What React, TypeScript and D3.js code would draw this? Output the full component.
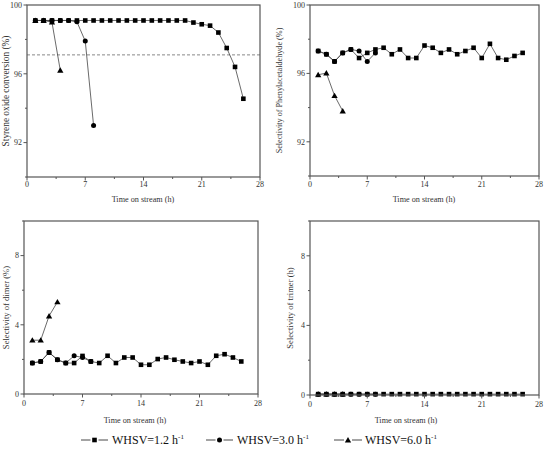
import React from "react";
import * as d3 from "d3";

const timeSq = [1,2,3,4,5,6,7,8,9,10,11,12,13,14,15,16,17,18,19,20,21,22,23,24,25,26];
const timeCi = [1,2,3,4,5,6,7,8];
const timeTr = [1,2,3,4];

const convSq = [99.1,99.1,99.1,99.1,99.1,99.1,99.1,99.1,99.1,99.1,99.1,99.1,99.1,99.1,99.1,99.1,99.1,99.1,99.1,98.98,98.88,98.8,98.4,97.5,96.4,94.55];
const convCi = [99.1,99.1,99.1,99.1,99.1,99.02,97.9,93.0];
const convTr = [99.1,99.1,99.0,96.2];
const convLimit = 97.1;

const phaSq = [97.31,97.12,96.7,97.2,97.4,96.9,97.2,97.4,97.5,97.12,97.4,96.9,96.9,97.63,97.5,97.2,97.4,97.12,97.31,97.5,96.9,97.73,96.9,96.8,97.02,97.2];
const phaCi = [97.31,97.12,96.7,97.2,97.4,97.31,96.7,97.2];
const phaTr = [95.92,96.02,94.7,93.8];

const dimSq = [1.79,1.88,2.4,1.98,1.79,1.79,2.2,1.88,1.79,2.21,1.79,2.11,2.11,1.69,1.69,2.02,2.11,1.98,1.88,1.79,1.88,1.69,2.21,2.3,2.11,1.88];
const dimCi = [1.79,1.88,2.4,1.98,1.79,2.21,2.11,1.88];
const dimTr = [3.11,3.11,4.51,5.32];

const triSq = [0.05,0.05,0.05,0.05,0.05,0.05,0.05,0.05,0.05,0.05,0.05,0.05,0.05,0.05,0.05,0.05,0.05,0.05,0.05,0.05,0.05,0.05,0.05,0.05,0.05,0.05];
const triCi = [0.05,0.05,0.05,0.05,0.05,0.05,0.05,0.05];
const triTr = [0.05,0.05,0.05,0.05];

const xTicks = [0,7,14,21,28];
const xMinor = [3.5,10.5,17.5,24.5];
const yTicksTop = [92,96,100];
const yMinorTop = [90,94,98];
const yTicksBot = [0,4,8];
const yMinorBot = [2,6,10];

const legendLabels = ["WHSV=1.2 h", "WHSV=3.0 h", "WHSV=6.0 h"];

const FONT = "'Liberation Serif', 'DejaVu Serif', 'Times New Roman', serif";
const FRAME = "#555";
const tStyle = { fontFamily: FONT };

type Panel = {
  left: number; right: number; top: number; bottom: number;
  yDomain: [number, number]; yTicks: number[]; yMinor: number[];
  yTitle: string; yTitleX: number; yTitleSize: number;
  xTitleX: number; xTitleY: number; xLabelY: number;
  sq: number[]; ci: number[]; tr: number[]; dashed?: number;
};

const panels: Panel[] = [
  { left: 27, right: 260, top: 5, bottom: 177, yDomain: [90, 100], yTicks: yTicksTop, yMinor: yMinorTop,
    yTitle: "Styrene oxide conversion (%)", yTitleX: 9, yTitleSize: 9.3,
    xTitleX: 143, xTitleY: 202, xLabelY: 187, sq: convSq, ci: convCi, tr: convTr, dashed: convLimit },
  { left: 310, right: 539, top: 5, bottom: 176, yDomain: [90, 100], yTicks: yTicksTop, yMinor: yMinorTop,
    yTitle: "Selectivity of Phenylacetaldehyde (%)", yTitleX: 282, yTitleSize: 8.2,
    xTitleX: 424, xTitleY: 202, xLabelY: 187, sq: phaSq, ci: phaCi, tr: phaTr },
  { left: 24, right: 258, top: 221, bottom: 394, yDomain: [0, 10], yTicks: yTicksBot, yMinor: yMinorBot,
    yTitle: "Selectivity of dimer (%)", yTitleX: 9, yTitleSize: 8.6,
    xTitleX: 135, xTitleY: 423, xLabelY: 406, sq: dimSq, ci: dimCi, tr: dimTr },
  { left: 310, right: 539, top: 221, bottom: 395, yDomain: [0, 10], yTicks: yTicksBot, yMinor: yMinorBot,
    yTitle: "Selectivity of trimer (h)", yTitleX: 293, yTitleSize: 8.6,
    xTitleX: 406, xTitleY: 423, xLabelY: 407, sq: triSq, ci: triCi, tr: triTr },
];

const triPath = (cx: number, cy: number, s = 3) =>
  `M${cx},${cy - s}L${cx + s * 1.05},${cy + s * 0.8}L${cx - s * 1.05},${cy + s * 0.8}Z`;

function Markers({ kind, pts }: { kind: string; pts: [number, number][] }) {
  return (
    <g fill="#000">
      {pts.map(([x, y], i) =>
        kind === "sq" ? <rect key={i} x={x - 2.3} y={y - 2.3} width={4.6} height={4.6} /> :
        kind === "ci" ? <circle key={i} cx={x} cy={y} r={2.5} /> :
        <path key={i} d={triPath(x, y)} />
      )}
    </g>
  );
}

function PanelView({ p }: { p: Panel }) {
  const x = d3.scaleLinear().domain([0, 28]).range([p.left, p.right]);
  const y = d3.scaleLinear().domain(p.yDomain).range([p.bottom, p.top]);
  const line = d3.line<[number, number]>().x(d => d[0]).y(d => d[1]);
  const mk = (t: number[], v: number[]) => t.map((ti, i) => [x(ti), y(v[i])] as [number, number]);
  const sq = mk(timeSq, p.sq), ci = mk(timeCi, p.ci), tr = mk(timeTr, p.tr);
  const cy = (p.top + p.bottom) / 2;
  return (
    <g>
      {p.dashed !== undefined && (
        <line x1={p.left} x2={p.right} y1={y(p.dashed)} y2={y(p.dashed)} stroke="#888" strokeWidth={1} strokeDasharray="3,2" />
      )}
      <path d={line(tr) || ""} fill="none" stroke="#444" strokeWidth={0.8} />
      <path d={line(ci) || ""} fill="none" stroke="#444" strokeWidth={0.8} />
      <path d={line(sq) || ""} fill="none" stroke="#444" strokeWidth={0.8} />
      <Markers kind="tr" pts={tr} />
      <Markers kind="ci" pts={ci} />
      <Markers kind="sq" pts={sq} />
      <rect x={p.left} y={p.top} width={p.right - p.left} height={p.bottom - p.top} fill="none" stroke={FRAME} strokeWidth={1.2} />
      {xTicks.map(t => (
        <g key={"xt" + t}>
          <line x1={x(t)} x2={x(t)} y1={p.bottom} y2={p.bottom + 3.5} stroke={FRAME} strokeWidth={1} />
          <text x={x(t)} y={p.xLabelY} fontSize={8} textAnchor="middle" style={tStyle} fill="#333">{t}</text>
        </g>
      ))}
      {xMinor.map(t => (
        <line key={"xm" + t} x1={x(t)} x2={x(t)} y1={p.bottom} y2={p.bottom + 2} stroke={FRAME} strokeWidth={1} />
      ))}
      {p.yTicks.map(t => (
        <g key={"yt" + t}>
          <line x1={p.left - 3.5} x2={p.left} y1={y(t)} y2={y(t)} stroke={FRAME} strokeWidth={1} />
          <text x={p.left - 5} y={y(t) + 2.8} fontSize={8} textAnchor="end" style={tStyle} fill="#333">{t}</text>
        </g>
      ))}
      {p.yMinor.map(t => (
        <line key={"ym" + t} x1={p.left - 2} x2={p.left} y1={y(t)} y2={y(t)} stroke={FRAME} strokeWidth={1} />
      ))}
      <text x={p.xTitleX} y={p.xTitleY} fontSize={8.2} textAnchor="middle" style={tStyle} fill="#333">Time on stream (h)</text>
      <text transform={`translate(${p.yTitleX},${cy}) rotate(-90)`} fontSize={p.yTitleSize} textAnchor="middle" style={tStyle} fill="#333">{p.yTitle}</text>
    </g>
  );
}

const legendPos = [
  { x0: 81, x1: 108, cx: 94.5, tx: 112, kind: "sq" },
  { x0: 206, x1: 233, cx: 219.5, tx: 237, kind: "ci" },
  { x0: 334, x1: 362, cx: 348, tx: 365, kind: "tr" },
];

export default function App() {
  const ly = 440;
  return (
    <svg width={549} height={450} style={{ position: "absolute", left: 0, top: 0, background: "#fff" }}>
      {panels.map((p, i) => <PanelView key={i} p={p} />)}
      {legendPos.map((l, i) => (
        <g key={i}>
          <line x1={l.x0} x2={l.cx - 4} y1={ly} y2={ly} stroke="#333" strokeWidth={0.9} />
          <line x1={l.cx + 4} x2={l.x1} y1={ly} y2={ly} stroke="#333" strokeWidth={0.9} />
          <Markers kind={l.kind} pts={[[l.cx, ly]]} />
          <text x={l.tx} y={ly + 4} fontSize={12} style={tStyle} fill="#111">
            {legendLabels[i]}
            <tspan fontSize={7} dy={-5}>-1</tspan>
          </text>
        </g>
      ))}
    </svg>
  );
}
